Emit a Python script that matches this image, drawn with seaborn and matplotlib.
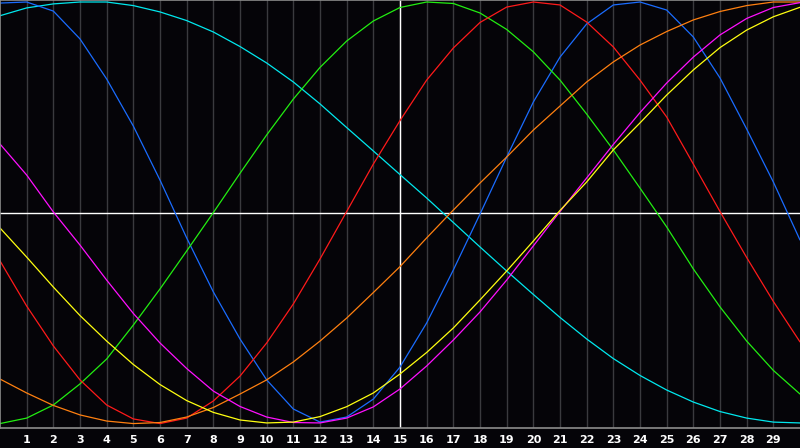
import numpy as np
import pandas as pd
import matplotlib
matplotlib.use("Agg")
import matplotlib.pyplot as plt
import seaborn as sns

# valores (x = 0..30)
x_vals = list(range(31))

cyan = [0.935, 0.972, 0.991, 1.0, 1.0, 0.983, 0.953, 0.912, 0.858, 0.789, 0.711,
        0.621, 0.517, 0.405, 0.294, 0.182, 0.071, -0.045, -0.161, -0.275, -0.386,
        -0.495, -0.597, -0.69, -0.77, -0.839, -0.896, -0.941, -0.972, -0.991, -0.995]
blue = [0.995, 1.0, 0.957, 0.825, 0.635, 0.412, 0.156, -0.118, -0.374, -0.597, -0.791,
        -0.929, -0.991, -0.967, -0.882, -0.73, -0.521, -0.27, -0.005, 0.265, 0.526,
        0.739, 0.896, 0.986, 1.0, 0.962, 0.834, 0.64, 0.398, 0.147, -0.128]
green = [-0.998, -0.972, -0.91, -0.81, -0.692, -0.531, -0.36, -0.18, 0.002, 0.188, 0.37,
         0.54, 0.69, 0.815, 0.91, 0.974, 1.0, 0.993, 0.948, 0.87, 0.764,
         0.63, 0.469, 0.299, 0.118, -0.066, -0.265, -0.445, -0.607, -0.746, -0.858]
red = [-0.227, -0.441, -0.63, -0.791, -0.91, -0.976, -0.998, -0.972, -0.891, -0.773, -0.616,
       -0.431, -0.218, 0.007, 0.232, 0.438, 0.63, 0.782, 0.903, 0.976, 1.0,
       0.986, 0.905, 0.787, 0.63, 0.455, 0.232, 0.007, -0.211, -0.419, -0.611]
orange = [-0.787, -0.853, -0.912, -0.957, -0.986, -0.998, -0.993, -0.967, -0.922, -0.858, -0.791,
          -0.706, -0.607, -0.498, -0.377, -0.254, -0.118, 0.014, 0.142, 0.265, 0.393,
          0.507, 0.621, 0.716, 0.796, 0.86, 0.915, 0.955, 0.983, 1.0, 1.0]
magenta = [0.327, 0.18, 0.005, -0.152, -0.318, -0.476, -0.616, -0.737, -0.844, -0.917, -0.967,
           -0.993, -0.995, -0.972, -0.919, -0.834, -0.725, -0.602, -0.469, -0.318, -0.156,
           0.007, 0.166, 0.325, 0.476, 0.616, 0.739, 0.844, 0.922, 0.974, 0.997]
yellow = [-0.071, -0.209, -0.351, -0.486, -0.607, -0.718, -0.813, -0.889, -0.945, -0.981, -0.995,
          -0.991, -0.965, -0.918, -0.853, -0.763, -0.661, -0.545, -0.412, -0.275, -0.133,
          0.012, 0.147, 0.299, 0.427, 0.559, 0.678, 0.784, 0.867, 0.93, 0.975]

tick_labels = [str(i) for i in range(1, 30)]

series = {
    'cyan': cyan, 'blue': blue, 'green': green, 'red': red,
    'orange': orange, 'magenta': magenta, 'yellow': yellow,
}
cores = {
    'cyan': '#00e8ee', 'blue': '#1a6cff', 'green': '#22ee11', 'red': '#ff1a1a',
    'orange': '#ff8010', 'magenta': '#ff10ff', 'yellow': '#ffff10',
}

df = pd.concat(
    [pd.DataFrame({'x': x_vals, 'valor': v, 'serie': nome}) for nome, v in series.items()],
    ignore_index=True,
)

sns.set_style("dark")
fundo = '#050408'
plt.rcParams['font.family'] = ['DejaVu Sans']

fig = plt.figure(figsize=(8, 4.48), dpi=100, facecolor=fundo)
ax = fig.add_axes([0, 20 / 448, 1, 428 / 448])
ax.set_facecolor(fundo)

# grade vertical
for i in range(1, 30):
    ax.axvline(i, color='#3a3a3e', lw=1.0, zorder=0)
ax.axvline(15, color='white', lw=1.0, zorder=1)
ax.axhline(0, color='white', lw=1.0, zorder=1)

sns.lineplot(data=df, x='x', y='valor', hue='serie', palette=cores,
             legend=False, linewidth=0.9, errorbar=None, ax=ax, zorder=2)

ax.set_xlim(0, 30)
ax.set_ylim(-1.019, 1.0095)
ax.set_xticks(range(1, 30))
ax.set_xticklabels(tick_labels, color='white', fontsize=8, fontweight='bold')
ax.set_yticks([])
ax.tick_params(axis='x', length=0, pad=5)
ax.set_xlabel('')
ax.set_ylabel('')
ax.grid(False)

for lado in ['left', 'top', 'bottom']:
    ax.spines[lado].set_color('#8c8c8c')
    ax.spines[lado].set_linewidth(1.2)
ax.spines['right'].set_visible(False)

fig.savefig('out.png', dpi=100, facecolor=fundo)
plt.close(fig)
